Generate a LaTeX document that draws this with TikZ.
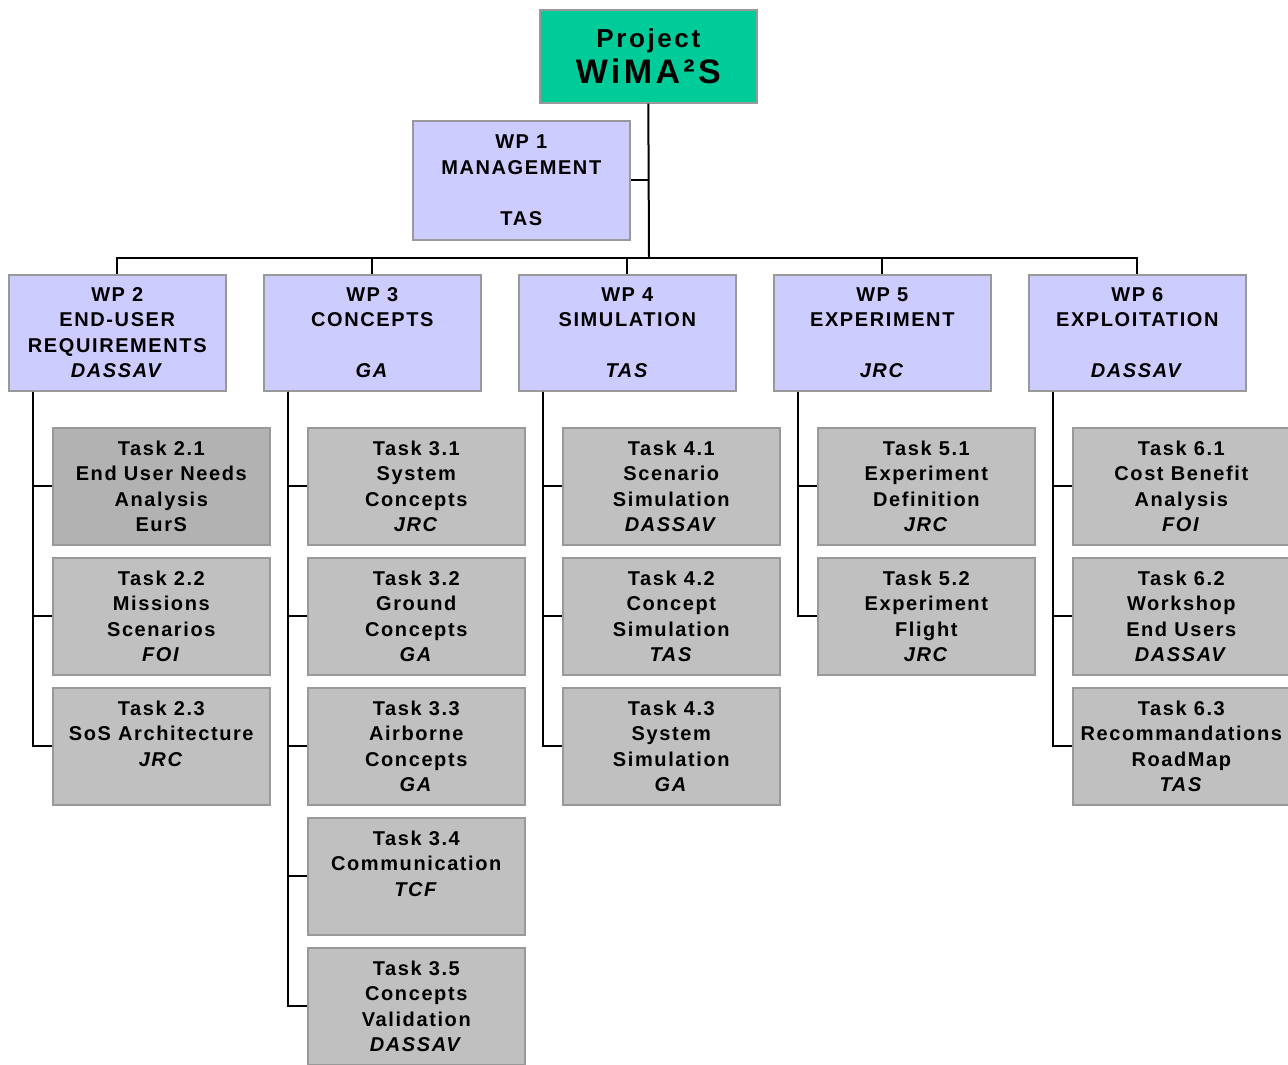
\documentclass[tikz,border=0pt]{standalone}
\usepackage{fontspec}
\setmainfont{Liberation Sans}
\newfontfamily\wbsfont{Liberation Sans}[LetterSpace=8]
\newfontfamily\headfont{Liberation Sans}[LetterSpace=10]
\usepackage{tikz}
\usetikzlibrary{positioning}

\definecolor{projgreen}{HTML}{00CC99}
\definecolor{wplilac}{HTML}{CCCCFF}
\definecolor{taskgrey}{HTML}{C0C0C0}
\definecolor{taskdark}{HTML}{B2B2B2}
\definecolor{boxline}{HTML}{999999}

\tikzset{
  wpbox/.style={draw=boxline, line width=0.8pt, fill=wplilac, minimum width=108.5pt, minimum height=58pt,
    inner sep=0pt, anchor=north west, align=center, font=\wbsfont\bfseries\fontsize{10}{12.75}\selectfont},
  taskbox/.style={wpbox, fill=taskgrey, minimum height=58.5pt},
  projbox/.style={wpbox, fill=projgreen, minimum height=46.5pt, font=\headfont\bfseries},
  link/.style={line width=1pt, black},
}

\begin{document}
\begin{tikzpicture}[x=0.5pt, y=-0.5pt]
  \useasboundingbox (0,0) rectangle (1288,1064);

  % Draw the project box
  \node[projbox] (proj) at (539,9) {{\fontsize{13}{15}\selectfont Project}\\[2pt]{\fontsize{17}{20}\selectfont WiMA²S}};

  % Draw the management box
  \node[wpbox, minimum height=59.5pt] (wp1) at (412,120) {WP 1\\MANAGEMENT\\~\\TAS};

  % Draw the work package boxes
  \node[wpbox] (wp2) at (8,274) {WP 2\\END-USER\\REQUIREMENTS\\\textit{DASSAV}};
  \node[wpbox] (wp3) at (263,274) {WP 3\\CONCEPTS\\~\\\textit{GA}};
  \node[wpbox] (wp4) at (518,274) {WP 4\\SIMULATION\\~\\\textit{TAS}};
  \node[wpbox] (wp5) at (773,274) {WP 5\\EXPERIMENT\\~\\\textit{JRC}};
  \node[wpbox] (wp6) at (1028,274) {WP 6\\EXPLOITATION\\~\\\textit{DASSAV}};

  % Tasks of WP 2
  \node[taskbox, fill=taskdark] (t21) at (52,427) {Task 2.1\\End User Needs\\Analysis\\EurS};
  \node[taskbox, below=5.7pt of t21] (t22) {Task 2.2\\Missions\\Scenarios\\\textit{FOI}};
  \node[taskbox, below=5.7pt of t22] (t23) {Task 2.3\\SoS Architecture\\\textit{JRC}\\~};

  % Tasks of WP 3
  \node[taskbox] (t31) at (307,427) {Task 3.1\\System\\Concepts\\\textit{JRC}};
  \node[taskbox, below=5.7pt of t31] (t32) {Task 3.2\\Ground\\Concepts\\\textit{GA}};
  \node[taskbox, below=5.7pt of t32] (t33) {Task 3.3\\Airborne\\Concepts\\\textit{GA}};
  \node[taskbox, below=5.7pt of t33] (t34) {Task 3.4\\Communication\\\textit{TCF}\\~};
  \node[taskbox, below=5.7pt of t34] (t35) {Task 3.5\\Concepts\\Validation\\\textit{DASSAV}};

  % Tasks of WP 4
  \node[taskbox] (t41) at (562,427) {Task 4.1\\Scenario\\Simulation\\\textit{DASSAV}};
  \node[taskbox, below=5.7pt of t41] (t42) {Task 4.2\\Concept\\Simulation\\\textit{TAS}};
  \node[taskbox, below=5.7pt of t42] (t43) {Task 4.3\\System\\Simulation\\\textit{GA}};

  % Tasks of WP 5
  \node[taskbox] (t51) at (817,427) {Task 5.1\\Experiment\\Definition\\\textit{JRC}};
  \node[taskbox, below=5.7pt of t51] (t52) {Task 5.2\\Experiment\\Flight\\\textit{JRC}};

  % Tasks of WP 6
  \node[taskbox] (t61) at (1072,427) {Task 6.1\\Cost Benefit\\Analysis\\\textit{FOI}};
  \node[taskbox, below=5.7pt of t61] (t62) {Task 6.2\\Workshop\\End Users\\\textit{DASSAV}};
  \node[taskbox, below=5.7pt of t62] (t63) {Task 6.3\\Recommandations\\RoadMap\\\textit{TAS}};

  % Draw the tree lines
  \coordinate (bus) at (649,258);
  \draw[link] (proj.south) -- (bus);
  \draw[link] (wp1.east) -- (wp1.east -| bus);
  \foreach \w in {wp2,wp3,wp4,wp5,wp6}
    \draw[link] (\w.north) |- (bus);

  % Draw the task lines
  \foreach \w/\tl in {wp2/{t21,t22,t23}, wp3/{t31,t32,t33,t34,t35}, wp4/{t41,t42,t43}, wp5/{t51,t52}, wp6/{t61,t62,t63}}
    \foreach \t in \tl
      \draw[link] ([xshift=12.5pt]\w.south west) |- (\t.west);
\end{tikzpicture}
\end{document}
